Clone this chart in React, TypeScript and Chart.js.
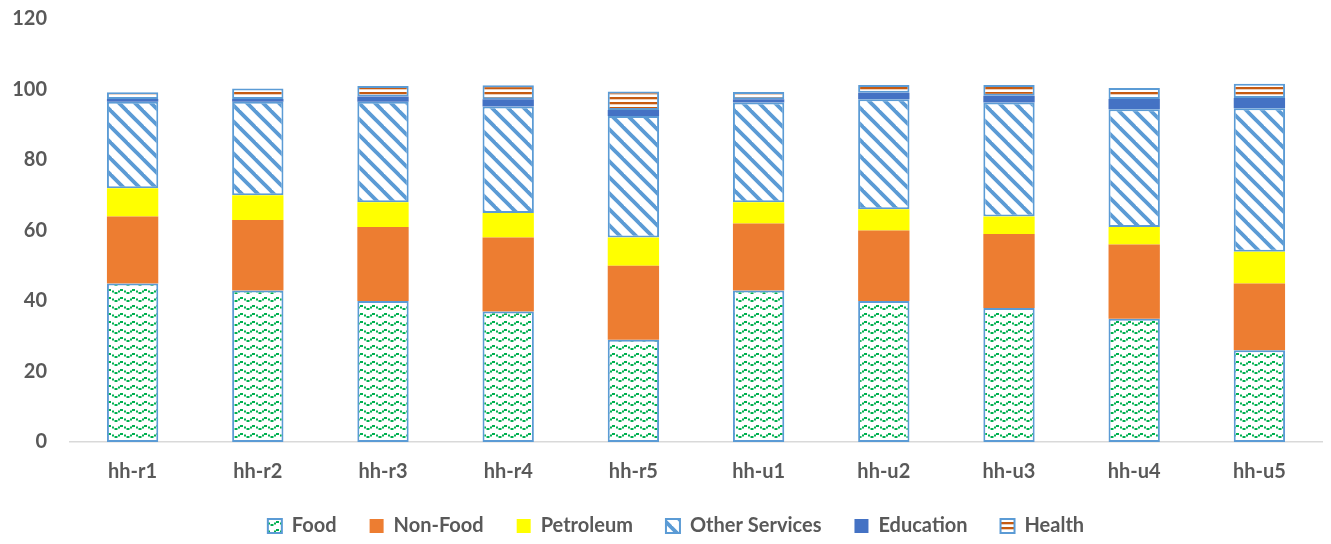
import React, { useEffect, useRef } from "react";
import { Chart, registerables } from "chart.js";

Chart.register(...registerables);

const categories = ["hh-r1", "hh-r2", "hh-r3", "hh-r4", "hh-r5", "hh-u1", "hh-u2", "hh-u3", "hh-u4", "hh-u5"];
const food = [45, 43, 40, 37, 29, 43, 40, 38, 35, 26];
const nonFood = [19, 20, 21, 21, 21, 19, 20, 21, 21, 19];
const petroleum = [8, 7, 7, 7, 8, 6, 6, 5, 5, 9];
const otherServices = [24.5, 26.5, 28.5, 30.2, 34.5, 28.3, 31.2, 32.3, 33.4, 40.7];
const education = [0.8, 0.8, 1.5, 2, 1.7, 0.9, 1.9, 1.9, 2.9, 2.9];
const health = [1.9, 3, 3, 4, 5.2, 2.1, 2.2, 3.1, 3.1, 4];
const yTicks = [0, 20, 40, 60, 80, 100, 120];

const TEXT = "#595959";
const EDGE = "#5B9BD5";
const FONT = "Lato, 'Open Sans', sans-serif";

function makePattern(w: number, h: number, draw: (ctx: CanvasRenderingContext2D) => void) {
  const c = document.createElement("canvas");
  c.width = w;
  c.height = h;
  const ctx = c.getContext("2d")!;
  ctx.fillStyle = "#ffffff";
  ctx.fillRect(0, 0, w, h);
  draw(ctx);
  return ctx.createPattern(c, "repeat")!;
}

// green wavy dashes on white
function foodPattern() {
  return makePattern(12, 8, (ctx) => {
    ctx.fillStyle = "#00B050";
    ctx.fillRect(0, 1, 3, 2);
    ctx.fillRect(4, 2.5, 2, 2);
    ctx.fillRect(6.5, 4, 3, 2);
    ctx.fillRect(10, 2.5, 2, 2);
  });
}

// wide downward diagonal stripes
function stripePattern() {
  return makePattern(16, 16, (ctx) => {
    ctx.strokeStyle = EDGE;
    ctx.lineWidth = 3.8;
    for (const i of [-16, 0, 16]) {
      ctx.beginPath();
      ctx.moveTo(i - 2, -2);
      ctx.lineTo(i + 18, 18);
      ctx.stroke();
    }
  });
}

// horizontal orange bands
function healthPattern() {
  return makePattern(4, 5, (ctx) => {
    ctx.fillStyle = "#C55A11";
    ctx.fillRect(0, 2, 4, 2.3);
  });
}

// nudges the legend row a little to the right of the canvas centre
const legendShift = {
  id: "legendShift",
  afterLayout(chart: any) {
    const lg = chart.legend;
    if (lg) {
      lg.left += 9;
      lg.right += 9;
    }
  },
};

export default function App() {
  const ref = useRef<HTMLCanvasElement | null>(null);

  useEffect(() => {
    document.body.style.margin = "0";
    const canvas = ref.current!;
    const chart = new Chart(canvas, {
      type: "bar",
      data: {
        labels: categories,
        datasets: [
          { label: "Food", data: food, backgroundColor: foodPattern(), borderColor: EDGE, borderWidth: 2, borderSkipped: false },
          { label: "Non-Food", data: nonFood, backgroundColor: "#ED7D31", borderWidth: 0 },
          { label: "Petroleum", data: petroleum, backgroundColor: "#FFFF00", borderWidth: 0 },
          { label: "Other Services", data: otherServices, backgroundColor: stripePattern(), borderColor: EDGE, borderWidth: 2, borderSkipped: false },
          { label: "Education", data: education, backgroundColor: "#4472C4", borderWidth: 0 },
          { label: "Health", data: health, backgroundColor: healthPattern(), borderColor: EDGE, borderWidth: 2, borderSkipped: false },
        ],
      },
      options: {
        responsive: false,
        animation: false,
        layout: { padding: { left: 12, right: 9, top: 19, bottom: -2 } },
        datasets: { bar: { categoryPercentage: 1, barPercentage: 0.41 } },
        scales: {
          x: {
            stacked: true,
            grid: { display: false, drawTicks: false },
            border: { display: true, color: "#D9D9D9", width: 1.5 },
            ticks: { color: TEXT, font: { family: FONT, size: 20, weight: "bold" }, padding: 18 },
            afterFit: (axis: any) => {
              axis.height = axis.height - 19;
            },
          },
          y: {
            stacked: true,
            min: 0,
            max: 120,
            afterBuildTicks: (axis: any) => {
              axis.ticks = yTicks.map((v) => ({ value: v }));
            },
            afterFit: (axis: any) => {
              axis.width = 58;
              axis.paddingTop = 0;
              axis.paddingBottom = 0;
            },
            grid: { display: false, drawTicks: false },
            border: { display: false },
            ticks: { color: TEXT, font: { family: FONT, size: 20, weight: "bold" }, padding: 23 },
          },
        },
        plugins: {
          legend: {
            position: "bottom",
            labels: {
              color: TEXT,
              font: { family: FONT, size: 20, weight: "bold" },
              boxWidth: 14,
              boxHeight: 14,
              padding: 33,
            },
          },
          tooltip: { enabled: false },
        },
      },
      plugins: [legendShift],
    });
    return () => chart.destroy();
  }, []);

  return (
    <div style={{ position: "absolute", left: 0, top: 0, width: 1331, height: 544 }}>
      <canvas ref={ref} width={1331} height={544} />
    </div>
  );
}
